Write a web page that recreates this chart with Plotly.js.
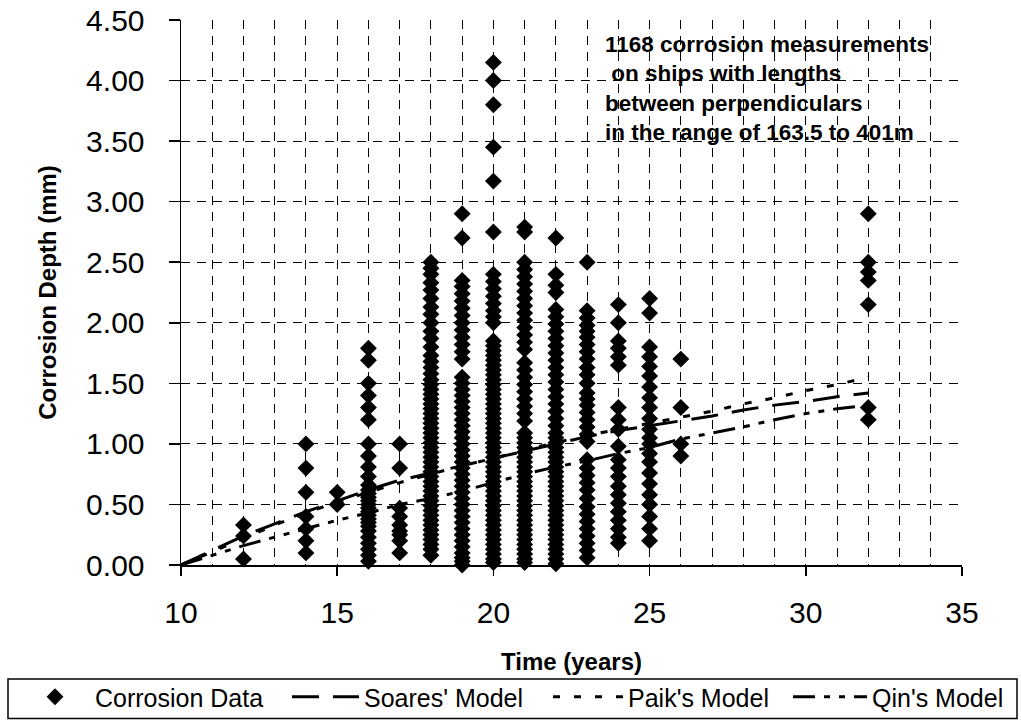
<!DOCTYPE html>
<html>
<head>
<meta charset="utf-8">
<script src="https://cdn.plot.ly/plotly-3.0.1.min.js"></script>
<style>
  html, body { margin: 0; padding: 0; background: #fff; }
  #chart { width: 1021px; height: 720px; }
</style>
</head>
<body>
<div id="chart"></div>
<script>
// ---- Corrosion measurements (depth in mm), one array per ship age (years) ----
const years = [12, 14, 15, 16, 17, 18, 19, 20, 21, 22, 23, 24, 25, 26, 32];

const d12 = [0.33, 0.24, 0.05];
const d14 = [1.00, 0.80, 0.60, 0.40, 0.30, 0.20, 0.10];
const d15 = [0.60, 0.50];
const d16 = [1.79, 1.69, 1.50, 1.40, 1.30, 1.20, 1.00, 0.90, 0.81, 0.73, 0.66, 0.62, 0.59, 0.56, 0.53, 0.50, 0.47, 0.44, 0.41, 0.38, 0.35, 0.32, 0.28, 0.23, 0.18, 0.13, 0.08, 0.03];
const d17 = [1.00, 0.80, 0.47, 0.40, 0.33, 0.28, 0.25, 0.20, 0.10];
const d18 = [2.50, 2.45, 2.40, 2.33, 2.27, 2.20, 2.13, 2.07, 2.00, 1.93, 1.87, 1.80, 1.73, 1.68, 1.63, 1.58, 1.53, 1.49, 1.45, 1.41, 1.37, 1.33, 1.29, 1.25, 1.21, 1.17, 1.13, 1.09, 1.05, 1.01, 0.97, 0.93, 0.89, 0.85, 0.81, 0.77, 0.73, 0.69, 0.65, 0.61, 0.57, 0.53, 0.49, 0.45, 0.41, 0.37, 0.33, 0.29, 0.25, 0.21, 0.17, 0.13, 0.08];
const d19 = [2.90, 2.70, 2.35, 2.30, 2.24, 2.18, 2.12, 2.06, 2.00, 1.94, 1.88, 1.82, 1.76, 1.70, 1.55, 1.50, 1.45, 1.40, 1.35, 1.30, 1.25, 1.20, 1.15, 1.10, 1.05, 1.00, 0.95, 0.90, 0.85, 0.80, 0.75, 0.70, 0.65, 0.60, 0.55, 0.50, 0.45, 0.40, 0.35, 0.30, 0.25, 0.20, 0.15, 0.10, 0.06, 0.03, 0.00];
const d20 = [4.15, 4.00, 3.80, 3.45, 3.17, 2.75, 2.40, 2.34, 2.28, 2.22, 2.16, 2.10, 2.05, 2.00, 1.85, 1.81, 1.77, 1.73, 1.69, 1.65, 1.61, 1.57, 1.53, 1.49, 1.45, 1.41, 1.37, 1.33, 1.29, 1.25, 1.21, 1.17, 1.13, 1.09, 1.05, 1.01, 0.97, 0.93, 0.89, 0.85, 0.81, 0.77, 0.73, 0.69, 0.65, 0.61, 0.57, 0.53, 0.49, 0.45, 0.41, 0.37, 0.33, 0.29, 0.25, 0.21, 0.17, 0.13, 0.09, 0.05, 0.02];
const d21 = [2.79, 2.75, 2.50, 2.44, 2.38, 2.32, 2.26, 2.20, 2.14, 2.08, 2.02, 1.96, 1.90, 1.84, 1.78, 1.67, 1.61, 1.55, 1.49, 1.43, 1.37, 1.31, 1.25, 1.19, 1.09, 1.05, 1.01, 0.97, 0.93, 0.89, 0.85, 0.81, 0.77, 0.73, 0.69, 0.65, 0.61, 0.57, 0.53, 0.49, 0.45, 0.41, 0.37, 0.33, 0.29, 0.25, 0.21, 0.17, 0.13, 0.09, 0.05, 0.02];
const d22 = [2.70, 2.40, 2.31, 2.25, 2.11, 2.05, 1.99, 1.93, 1.87, 1.81, 1.75, 1.69, 1.63, 1.57, 1.51, 1.45, 1.39, 1.33, 1.27, 1.21, 1.15, 1.09, 1.05, 1.01, 0.97, 0.93, 0.89, 0.85, 0.81, 0.77, 0.73, 0.69, 0.65, 0.61, 0.57, 0.53, 0.49, 0.45, 0.41, 0.37, 0.33, 0.29, 0.25, 0.21, 0.17, 0.13, 0.09, 0.05, 0.01];
const d23 = [2.50, 2.10, 2.04, 1.98, 1.93, 1.88, 1.82, 1.76, 1.70, 1.63, 1.57, 1.50, 1.42, 1.37, 1.32, 1.26, 1.20, 1.14, 1.08, 1.02, 0.87, 0.80, 0.74, 0.68, 0.62, 0.55, 0.48, 0.42, 0.36, 0.30, 0.24, 0.18, 0.12, 0.06];
const d24 = [2.15, 2.00, 1.85, 1.79, 1.72, 1.65, 1.30, 1.20, 1.12, 0.98, 0.87, 0.80, 0.73, 0.65, 0.58, 0.51, 0.44, 0.37, 0.30, 0.23, 0.18];
const d25 = [2.20, 2.08, 1.80, 1.72, 1.64, 1.56, 1.47, 1.38, 1.30, 1.21, 1.12, 1.05, 1.00, 0.92, 0.85, 0.76, 0.67, 0.58, 0.50, 0.40, 0.30, 0.20];
const d26 = [1.70, 1.30, 1.00, 0.90];
const d32 = [2.90, 2.50, 2.42, 2.35, 2.15, 1.30, 1.20];

const depthColumns = [d12, d14, d15, d16, d17, d18, d19, d20, d21, d22, d23, d24, d25, d26, d32];

// ---- Model curves (at each year) ----
const modelYears = [10, 11, 12, 13, 14, 15, 16, 17, 18, 19, 20, 21, 22, 23, 24, 25, 26, 27, 28, 29, 30, 31, 32];
const soares = [0, 0.12, 0.24, 0.34, 0.44, 0.53, 0.62, 0.70, 0.76, 0.82, 0.88, 0.94, 1.00, 1.06, 1.11, 1.15, 1.19, 1.23, 1.28, 1.32, 1.35, 1.39, 1.42];
const paik   = [0, 0.11, 0.22, 0.33, 0.43, 0.52, 0.60, 0.68, 0.75, 0.82, 0.88, 0.95, 1.01, 1.07, 1.12, 1.17, 1.22, 1.27, 1.33, 1.38, 1.44, 1.49, 1.55];
const qin    = [0, 0.08, 0.16, 0.23, 0.30, 0.37, 0.43, 0.50, 0.55, 0.61, 0.68, 0.75, 0.81, 0.86, 0.92, 0.97, 1.04, 1.09, 1.14, 1.20, 1.25, 1.29, 1.32];

const xTickVals = [10, 15, 20, 25, 30, 35];
const yTickVals = [0, 0.5, 1.0, 1.5, 2.0, 2.5, 3.0, 3.5, 4.0, 4.5];

// build scatter arrays
const scatterX = [], scatterY = [];
years.forEach((yr, i) => {
  depthColumns[i].forEach(v => { scatterX.push(yr); scatterY.push(v); });
});

const FONT = 'Liberation Sans, Arial, Helvetica, sans-serif';

const traces = [
  {
    type: 'scatter', mode: 'markers', name: 'Corrosion Data', legend: 'legend',
    x: scatterX, y: scatterY,
    marker: { symbol: 'diamond', size: 13, color: '#000' },
    cliponaxis: false
  },
  {
    type: 'scatter', mode: 'lines', name: "Soares' Model", legend: 'legend2',
    x: modelYears, y: soares,
    line: { color: '#000', width: 3, dash: '27px,14px' }
  },
  {
    type: 'scatter', mode: 'lines', name: "Paik's Model", legend: 'legend3',
    x: modelYears, y: paik,
    line: { color: '#000', width: 3, dash: '7px,14px' }
  },
  {
    type: 'scatter', mode: 'lines', name: "Qin's Model", legend: 'legend4',
    x: modelYears, y: qin,
    line: { color: '#000', width: 3, dash: '22px,9px,6px,9px,6px,9px' }
  }
];

const gridStyle = { showgrid: true, gridcolor: '#000', gridwidth: 1, griddash: '9px,7px' };

// plot area: x 181..962 px, y 20..565 px
function legendAt(xPx, itemW) {
  return {
    orientation: 'h', xref: 'paper', yref: 'paper',
    x: (xPx - 181) / 781, y: (565 - 674) / 545, xanchor: 'left', yanchor: 'top',
    bgcolor: 'rgba(0,0,0,0)', borderwidth: 0, itemwidth: itemW,
    font: { size: 25, family: FONT, color: '#000' }
  };
}

const layout = {
  width: 1021, height: 720,
  margin: { l: 181, r: 59, t: 20, b: 155, pad: 0, autoexpand: false },
  paper_bgcolor: '#fff', plot_bgcolor: '#fff',
  font: { family: FONT, color: '#000' },
  showlegend: true,
  xaxis: Object.assign({
    range: [10, 35], tickvals: xTickVals, ticktext: xTickVals.map(String),
    showline: true, linecolor: '#000', linewidth: 1.5,
    ticks: 'outside', ticklen: 9, tickwidth: 1.5, tickcolor: '#000',
    tickfont: { size: 30, family: FONT },
    ticklabelstandoff: 11,
    zeroline: false, fixedrange: true,
    minor: { dtick: 1, tick0: 10, showgrid: true, gridcolor: '#000', gridwidth: 1, griddash: '9px,7px' },
    title: { text: '<b>Time (years)</b>', font: { size: 24, family: FONT }, standoff: 25 }
  }, gridStyle),
  yaxis: Object.assign({
    range: [0, 4.5], tickvals: yTickVals, tickformat: '.2f',
    showline: true, linecolor: '#000', linewidth: 1.5,
    ticks: 'outside', ticklen: 11, tickwidth: 1.5, tickcolor: '#000',
    tickfont: { size: 30, family: FONT },
    ticklabelstandoff: 18,
    zeroline: false, fixedrange: true,
    title: { text: '<b>Corrosion Depth (mm)</b>', font: { size: 24, family: FONT }, standoff: 22 }
  }, gridStyle),
  legend: legendAt(15, 70),
  legend2: legendAt(287, 67),
  legend3: legendAt(548, 70),
  legend4: legendAt(788, 74),
  shapes: [{
    type: 'rect', xref: 'paper', yref: 'paper', layer: 'above',
    x0: (8 - 181) / 781, x1: (1017 - 181) / 781,
    y0: (565 - 718.5) / 545, y1: (565 - 679) / 545,
    line: { color: '#000', width: 1.5 }, fillcolor: 'rgba(0,0,0,0)'
  }],
  annotations: [{
    xref: 'x', yref: 'y', x: 23.5, y: 4.42, xanchor: 'left', yanchor: 'top',
    align: 'left', showarrow: false,
    text: '<b>1168 corrosion measurements<br>\u00a0on ships with lengths<br>between perpendiculars<br>in the range of 163.5 to 401m</b>',
    font: { size: 22.5, family: FONT, color: '#000' }
  }]
};

Plotly.newPlot('chart', traces, layout, { displayModeBar: false, staticPlot: true });
</script>
</body>
</html>
